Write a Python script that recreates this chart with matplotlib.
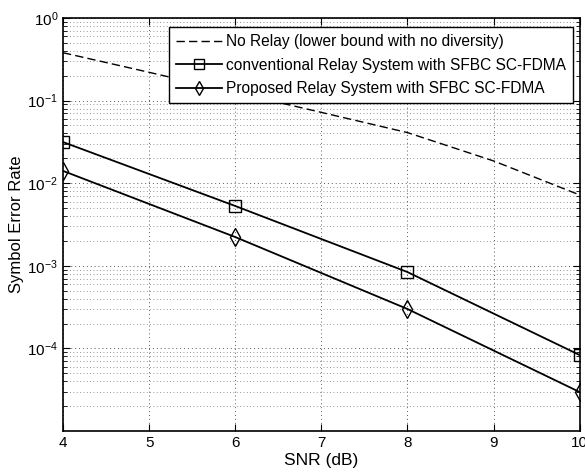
import numpy as np
import matplotlib
matplotlib.use('Agg')
from matplotlib import pyplot as plt
from matplotlib.ticker import LogLocator, NullFormatter

plt.rcParams['font.family'] = ['Liberation Sans', 'DejaVu Sans']

# SNR points (dB)
SNR_NO_RELAY = [4, 5, 6, 7, 8, 9, 10]
SNR_RELAY = [4, 6, 8, 10]

# Symbol error rate
SER_NO_RELAY = [0.38, 0.22, 0.126, 0.072, 0.041, 0.0186, 0.0072]
SER_CONVENTIONAL = [0.0315, 0.0053, 8.4e-4, 8.3e-5]
SER_PROPOSED = [0.0141, 0.00223, 3.0e-4, 2.96e-5]

LABELS = [
    'No Relay (lower bound with no diversity)',
    'conventional Relay System with SFBC SC-FDMA',
    'Proposed Relay System with SFBC SC-FDMA',
]

fig = plt.figure(figsize=(5.85, 4.74), dpi=100)
ax = fig.add_axes([0.1077, 0.0907, 0.8833, 0.8713])

ax.semilogy(SNR_NO_RELAY, SER_NO_RELAY, 'k', linestyle=(0, (6, 3)), linewidth=1.0,
            label=LABELS[0])
ax.semilogy(SNR_RELAY, SER_CONVENTIONAL, 'k-', marker='s', markersize=9,
            markerfacecolor='none', markeredgewidth=1.0, linewidth=1.3, label=LABELS[1])
ax.semilogy(SNR_RELAY, SER_PROPOSED, 'k-', marker='d', markersize=9,
            markerfacecolor='none', markeredgewidth=1.0, linewidth=1.3, label=LABELS[2])

ax.set_xlim(4, 10)
ax.set_ylim(1e-5, 1e0)
ax.set_xticks(range(4, 11))
ax.set_yticks([1e-4, 1e-3, 1e-2, 1e-1, 1e0])
ax.yaxis.set_minor_locator(LogLocator(base=10, subs=np.arange(2, 10)))
ax.yaxis.set_minor_formatter(NullFormatter())

# MATLAB style dotted grid
ax.grid(True, which='major', axis='both', color='0.35', linestyle=(0, (1, 3)), linewidth=0.7)
ax.grid(True, which='minor', axis='y', color='0.45', linestyle=(0, (1, 3)), linewidth=0.6)

ax.tick_params(which='both', direction='in', top=True, right=True, labelsize=11)
ax.tick_params(which='major', length=5)
ax.tick_params(which='minor', length=3)
for s in ax.spines.values():
    s.set_linewidth(1.2)

ax.set_xlabel('SNR (dB)', fontsize=12.5, labelpad=2)
ax.set_ylabel('Symbol Error Rate', fontsize=12, labelpad=2)

leg = ax.legend(loc='upper right', bbox_to_anchor=(0.986, 0.978), fontsize=11.2,
                handlelength=3.0, handletextpad=0.2, borderpad=0.45,
                labelspacing=0.55, markerscale=0.75, fancybox=False,
                framealpha=1, edgecolor='k', borderaxespad=0.0)
leg.get_frame().set_linewidth(1.0)

plt.savefig('out.png', dpi=100)
